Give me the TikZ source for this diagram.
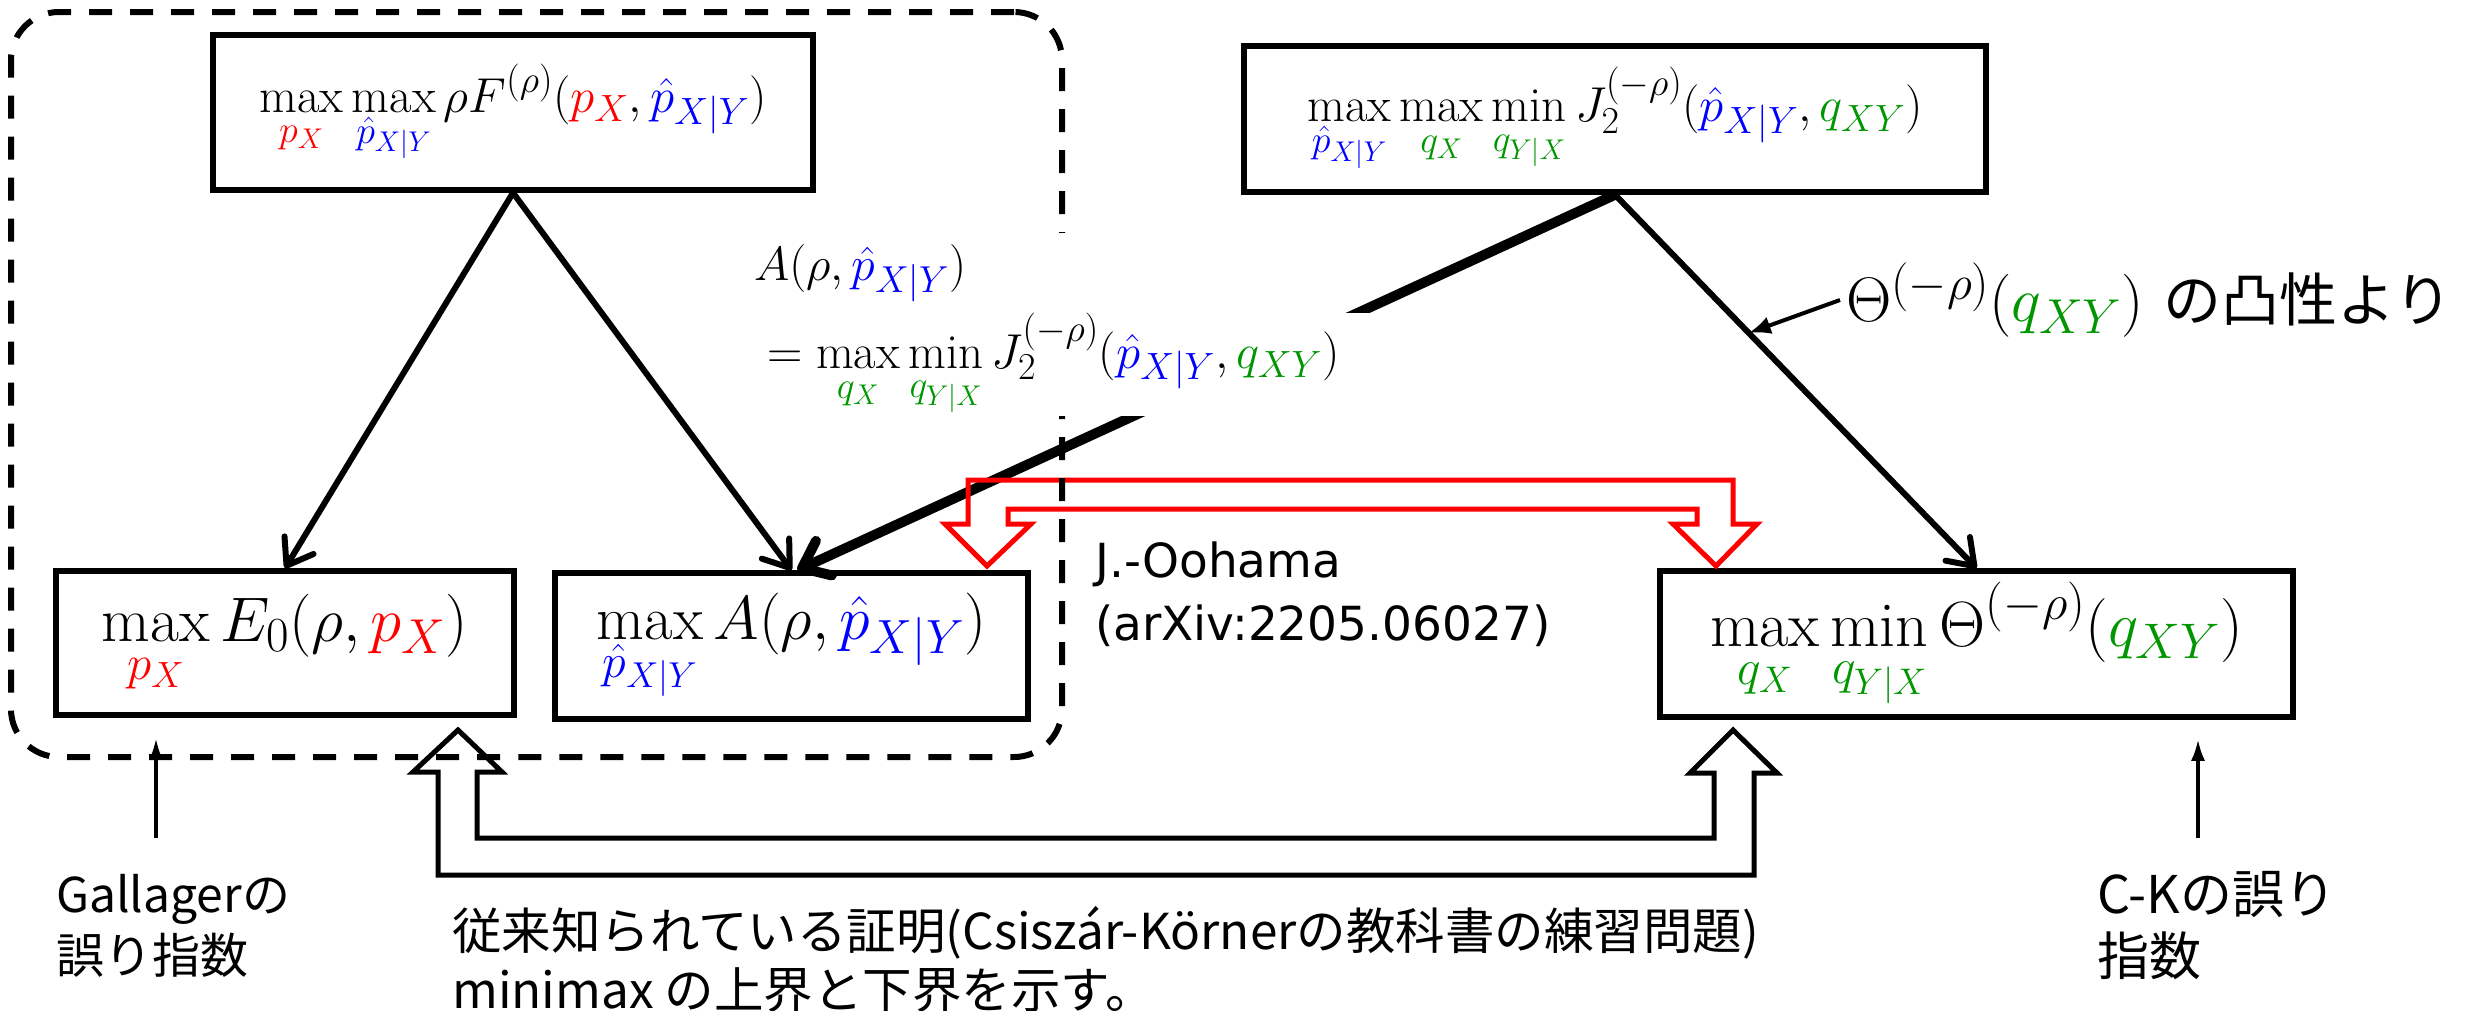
\RequirePackage{fix-cm}
\documentclass[tikz,border=0pt]{standalone}
\usepackage{exscale}
\usepackage{fontspec}
\newfontfamily\jp{Noto Sans CJK JP}
\newfontfamily\lat{DejaVu Sans}
\usetikzlibrary{arrows.meta,calc}
\DeclareMathSizes{48}{48}{37.5}{28}
\DeclareMathSizes{49}{49}{38}{28.5}
\DeclareMathSizes{62}{62}{48}{36}
\DeclareMathSizes{63}{63}{49}{36.5}
\DeclareMathSizes{64}{64}{50}{37}
\definecolor{cred}{RGB}{255,0,0}
\definecolor{cblue}{RGB}{0,0,255}
\definecolor{cgreen}{RGB}{0,150,0}
\newcommand{\lstrut}{\rule{0pt}{0.52em}}
\tikzset{
  box/.style={draw, line width=5.5pt, inner sep=0pt},
  conn/.style={line width=6pt, -{Straight Barb[length=24pt,width=34pt,round]}},
  thickconn/.style={line width=10pt, -{Straight Barb[length=24pt,width=38pt,round]}},
  uparr/.style={line width=4pt, -{Latex[length=22pt,width=14pt]}},
  annarr/.style={line width=4pt, -{Latex[length=22pt,width=18pt]}},
  blockred/.style={draw=cred, line width=5pt, line join=miter},
  blockblk/.style={draw=black, line width=5pt, line join=miter},
  frame/.style={draw, line width=6pt, dash pattern=on 23pt off 18pt, rounded corners=48pt},
  jptext/.style={inner sep=0pt, align=left, font=\jp\fontsize{48}{61}\selectfont},
  mathlbl/.style={fill=white, inner ysep=0pt, align=left},
}
\begin{document}
\begin{tikzpicture}[x=1pt,y=-1pt]
\useasboundingbox (0,0) rectangle (2483,1010);

% boxes
\node[box, minimum width=600, minimum height=155, font=\fontsize{49}{59}\selectfont] (T1) at (513,112.5)
  {$\displaystyle \max_{\lstrut\color{cred}p_X}\max_{\lstrut\color{cblue}\hat p_{X|Y}}\rho F^{(\rho)}({\color{cred}p_X},{\color{cblue}\hat p_{X|Y}})$};
\node[box, minimum width=742, minimum height=146, font=\fontsize{49}{59}\selectfont] (T2) at (1615,119)
  {$\displaystyle \max_{\lstrut\color{cblue}\hat p_{X|Y}}\max_{\lstrut\color{cgreen}q_X}\min_{\lstrut\color{cgreen}q_{Y|X}} J_2^{(-\rho)}({\color{cblue}\hat p_{X|Y}},{\color{cgreen}q_{XY}})$};
\node[box, minimum width=458, minimum height=144, font=\fontsize{63}{75}\selectfont] (B1) at (285,643)
  {$\displaystyle \max_{\lstrut\color{cred}p_X} E_0(\rho,{\color{cred}p_X})$};
\node[box, minimum width=473, minimum height=146, font=\fontsize{62}{74}\selectfont] (B2) at (791.5,646)
  {$\displaystyle \max_{\lstrut\color{cblue}\hat p_{X|Y}} A(\rho,{\color{cblue}\hat p_{X|Y}})$};
\node[box, minimum width=633, minimum height=146, font=\fontsize{64}{76}\selectfont] (B3) at (1976.5,644)
  {$\displaystyle \max_{\lstrut\color{cgreen}q_X}\min_{\lstrut\color{cgreen}q_{Y|X}}\Theta^{(-\rho)}({\color{cgreen}q_{XY}})$};

% connectors
\draw[conn] (T1.south) -- (B1.north);
\draw[conn] (T1.south) -- (B2.north);
\draw[thickconn] (T2.south) -- ($(B2.north)+(6,0)$);
\draw[conn] (T2.south) -- (B3.north);

% red double block arrow (J.-Oohama)
\draw[blockred] (987,566) -- (1031,524) -- (1008,524) -- (1008,509) -- (1697,509) -- (1697,524)
  -- (1673,524) -- (1716,566) -- (1757,524) -- (1733,524) -- (1733,480) -- (968,480)
  -- (968,524) -- (945,524) -- cycle;

% black double block arrow (known proof)
\draw[blockblk] (458,730) -- (502,772) -- (477,772) -- (477,838) -- (1714,838) -- (1714,773)
  -- (1690,773) -- (1733,730) -- (1777,773) -- (1754,773) -- (1754,875) -- (438,875)
  -- (438,772) -- (413,772) -- cycle;

% dashed group frame
\node[frame, minimum width=1051, minimum height=745] (grp) at (536.5,384.5) {};

% A label
\node[mathlbl, anchor=north west, inner xsep=12pt, text width=310pt, minimum height=80pt,
      font=\fontsize{48}{58}\selectfont] (L1) at (742,233)
  {$A(\rho,{\color{cblue}\hat p_{X|Y}})$};
\node[mathlbl, anchor=north west, inner xsep=17pt, text width=610pt, minimum height=100pt,
      font=\fontsize{49}{59}\selectfont] (L2) at (750,313)
  {$\displaystyle =\max_{\lstrut\color{cgreen}q_X}\min_{\lstrut\color{cgreen}q_{Y|X}} J_2^{(-\rho)}({\color{cblue}\hat p_{X|Y}},{\color{cgreen}q_{XY}})$};

% convexity annotation
\node[anchor=west, inner sep=6pt, font=\fontsize{63}{75}\selectfont] (ann) at (1840,300)
  {$\Theta^{(-\rho)}({\color{cgreen}q_{XY}})$ {\jp\fontsize{58}{68}\selectfont の凸性より}};
\draw[annarr] (ann.west) -- ($(T2.south)!0.37!(B3.north)$);

% texts
\node[jptext, anchor=west] (gal) at (56,926) {Gallagerの\\誤り指数};
\node[jptext, anchor=west, font=\jp\fontsize{52}{62}\selectfont] (ck) at (2097,926) {C-Kの誤り\\指数};
\node[jptext, anchor=west, font=\lat\fontsize{47}{63}\selectfont] (jo) at (1095,594) {J.-Oohama\\(arXiv:2205.06027)};
\node[jptext, anchor=west, font=\jp\fontsize{49.5}{59}\selectfont] (known) at (452,960)
  {従来知られている証明(Csiszár-Körnerの教科書の練習問題)\\minimax の上界と下界を示す。};

% small arrows to bottom boxes
\coordinate (ga) at (156,838);
\coordinate (cka) at (2198,838);
\draw[uparr, shorten >=20pt] (ga) -- (ga |- B1.south);
\draw[uparr, shorten >=19pt] (cka) -- (cka |- B3.south);
\end{tikzpicture}
\end{document}
